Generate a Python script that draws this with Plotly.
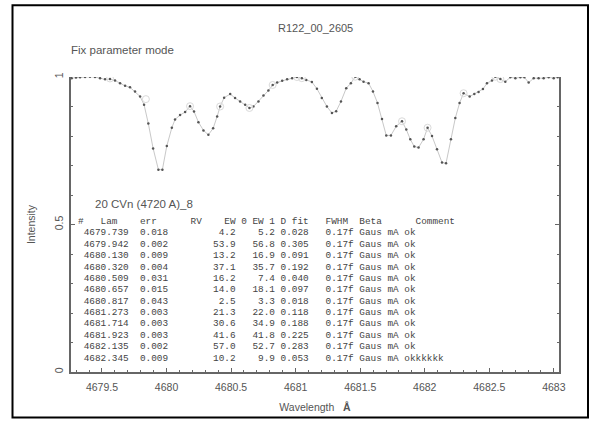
import plotly.graph_objects as go

# ---------------- data ----------------
wavelength = [4679.265, 4679.299, 4679.330, 4679.369, 4679.407, 4679.446, 4679.485, 4679.524,
              4679.562, 4679.601, 4679.640, 4679.679, 4679.717, 4679.756, 4679.795, 4679.826,
              4679.859, 4679.896, 4679.937, 4679.968, 4680.002, 4680.041, 4680.066, 4680.105,
              4680.144, 4680.182, 4680.213, 4680.247, 4680.286, 4680.324, 4680.361, 4680.392,
              4680.415, 4680.446, 4680.493, 4680.531, 4680.570, 4680.609, 4680.642, 4680.673,
              4680.712, 4680.751, 4680.789, 4680.822, 4680.857, 4680.896, 4680.934, 4680.973,
              4681.010, 4681.048, 4681.082, 4681.126, 4681.165, 4681.203, 4681.242, 4681.281,
              4681.314, 4681.351, 4681.392, 4681.428, 4681.462, 4681.495, 4681.526, 4681.565,
              4681.599, 4681.634, 4681.669, 4681.702, 4681.738, 4681.779, 4681.824, 4681.857,
              4681.888, 4681.919, 4681.952, 4681.991, 4682.022, 4682.056, 4682.095, 4682.134,
              4682.165, 4682.203, 4682.237, 4682.270, 4682.301, 4682.348, 4682.384, 4682.417,
              4682.451, 4682.482, 4682.521, 4682.547, 4682.586, 4682.624, 4682.663, 4682.702,
              4682.741, 4682.772, 4682.805, 4682.844, 4682.882, 4682.921, 4682.960, 4682.999,
              4683.030]
intensity = [0.996, 0.998, 0.999, 1.000, 1.001, 1.000, 0.996, 0.992,
             0.993, 0.988, 0.979, 0.970, 0.965, 0.951, 0.934, 0.906,
             0.842, 0.758, 0.686, 0.686, 0.766, 0.828, 0.856, 0.871,
             0.881, 0.901, 0.883, 0.847, 0.819, 0.804, 0.826, 0.866,
             0.900, 0.930, 0.942, 0.929, 0.917, 0.906, 0.895, 0.900,
             0.917, 0.937, 0.954, 0.973, 0.981, 0.987, 0.992, 0.996,
             1.000, 0.996, 0.990, 0.983, 0.960, 0.929, 0.900, 0.878,
             0.884, 0.917, 0.962, 0.979, 1.001, 0.992, 0.984, 0.979,
             0.951, 0.912, 0.858, 0.802, 0.802, 0.833, 0.850, 0.822,
             0.789, 0.764, 0.761, 0.789, 0.828, 0.800, 0.755, 0.710,
             0.708, 0.789, 0.861, 0.912, 0.945, 0.934, 0.942, 0.949,
             0.959, 0.979, 0.988, 1.001, 0.993, 0.984, 0.999, 0.996,
             0.999, 0.999, 0.981, 0.996, 0.996, 0.996, 0.999, 0.996,
             0.999]

circle_wl = [4679.562, 4679.840, 4680.182, 4680.415, 4680.642, 4680.822, 4681.010,
             4681.048, 4681.462, 4681.824, 4682.022, 4682.301, 4682.547, 4682.586]
circle_int = [0.995, 0.925, 0.901, 0.900, 0.895, 0.973, 1.000,
              0.996, 1.001, 0.850, 0.828, 0.945, 1.001, 0.993]

line_lam = ["4679.739", "4679.942", "4680.130", "4680.320", "4680.509", "4680.657",
            "4680.817", "4681.273", "4681.714", "4681.923", "4682.135", "4682.345"]
line_err = ["0.018", "0.002", "0.009", "0.004", "0.031", "0.015",
            "0.043", "0.003", "0.003", "0.003", "0.002", "0.009"]
line_ew0 = [4.2, 53.9, 13.2, 37.1, 16.2, 14.0, 2.5, 21.3, 30.6, 41.6, 57.0, 10.2]
line_ew1 = [5.2, 56.8, 16.9, 35.7, 7.4, 18.1, 3.3, 22.0, 34.9, 41.8, 52.7, 9.9]
line_dfit = ["0.028", "0.305", "0.091", "0.192", "0.040", "0.097",
             "0.018", "0.118", "0.188", "0.225", "0.283", "0.053"]
line_comment = ["ok"] * 11 + ["okkkkkk"]

x_ticks = [4679.5, 4680, 4680.5, 4681, 4681.5, 4682, 4682.5, 4683]
x_tick_text = ["4679.5", "4680", "4680.5", "4681", "4681.5", "4682", "4682.5", "4683"]
y_ticks = [0, 0.5, 1]
y_tick_text = ["0", "0.5", "1"]

# ---------------- layout geometry ----------------
W, H = 591, 424
L, R, T, B = 71, 559, 77, 375   # plot area in pixels


def px(x):
    return (x - L) / (R - L)


def py(y):
    return (B - y) / (B - T)


GRAY = "#555555"
fig = go.Figure()

fig.add_trace(go.Scatter(
    x=wavelength, y=intensity, mode="lines+markers",
    line=dict(color="#c8c8c8", width=1),
    marker=dict(size=2.5, color="#555555"),
    showlegend=False, hoverinfo="skip"))
fig.add_trace(go.Scatter(
    x=circle_wl, y=circle_int, mode="markers",
    marker=dict(size=7, color="rgba(0,0,0,0)", line=dict(color="#dadada", width=1)),
    showlegend=False, hoverinfo="skip"))

fig.update_layout(
    width=W, height=H,
    margin=dict(l=L, r=W - R, t=T, b=H - B, pad=0),
    paper_bgcolor="white", plot_bgcolor="white",
    font=dict(family="Liberation Sans, Arial, sans-serif", size=10, color=GRAY),
    xaxis=dict(range=[4679.26, 4683.04], showgrid=False, zeroline=False,
               showline=True, linecolor="#666666", linewidth=1.5, mirror=False,
               tickmode="array", tickvals=x_ticks, ticktext=x_tick_text,
               ticks="inside", ticklen=4, tickcolor="#666666",
               minor=dict(dtick=0.1, tick0=4679.5, ticks="inside", ticklen=2.5, tickcolor="#666666"),
               tickfont=dict(size=10.5, color=GRAY), ticklabelstandoff=5,
               title=dict(text="Wavelength\u00a0\u00a0\u00a0<b>Å</b>",
                          font=dict(size=10.5, color=GRAY), standoff=11)),
    yaxis=dict(range=[0, 1.0], showgrid=False, zeroline=False,
               showline=True, linecolor="#666666", linewidth=1.5, mirror="ticks",
               tickmode="array", tickvals=y_ticks, ticktext=y_tick_text,
               ticks="inside", ticklen=4, tickcolor="#666666",
               minor=dict(dtick=0.1, tick0=0, ticks="inside", ticklen=2.5, tickcolor="#666666"),
               tickangle=-90, tickfont=dict(size=10.5, color=GRAY), ticklabelstandoff=2,
               title=dict(text="Intensity", font=dict(size=10.5, color=GRAY), standoff=15)),
)

# outer frame
fig.add_shape(type="rect", xref="paper", yref="paper",
              x0=px(12.5), x1=px(588), y0=py(421), y1=py(4.5),
              line=dict(color="black", width=2), fillcolor="rgba(0,0,0,0)")

# titles / labels
fig.add_annotation(text="R122_00_2605", xref="paper", yref="paper",
                   x=px(315), y=py(27), showarrow=False, xanchor="center", yanchor="middle",
                   font=dict(size=11, color=GRAY))
fig.add_annotation(text="Fix parameter mode", xref="paper", yref="paper",
                   x=px(69), y=py(50), showarrow=False, xanchor="left", yanchor="middle",
                   font=dict(size=11.5, color=GRAY))
fig.add_annotation(text="20 CVn (4720 A)_8", xref="paper", yref="paper",
                   x=px(93), y=py(205), showarrow=False, xanchor="left", yanchor="middle",
                   font=dict(size=11.5, color=GRAY))


# table of fitted lines
def place(parts, width=68):
    buf = [" "] * width
    for col, txt in parts:
        for i, ch in enumerate(txt):
            buf[col + i] = ch
    return "".join(buf).rstrip().replace(" ", "\u00a0")


rows = [place([(0, "#"), (4, "Lam"), (11, "err"), (20, "RV"), (26, "EW 0"),
               (31, "EW 1"), (36, "D fit"), (44, "FWHM"), (50, "Beta"), (60, "Comment")])]
for i in range(len(line_lam)):
    rows.append(place([(1, line_lam[i]), (11, line_err[i]),
                       (23, f"{line_ew0[i]:5.1f}"), (30, f"{line_ew1[i]:5.1f}"),
                       (36, line_dfit[i]), (44, "0.17f"), (50, "Gaus"), (55, "mA"),
                       (58, line_comment[i])]))

for k, row in enumerate(rows):
    fig.add_annotation(text=row, xref="paper", yref="paper",
                       x=px(76), y=py(223 + 11.5 * k), showarrow=False,
                       xanchor="left", yanchor="middle",
                       font=dict(family="Liberation Mono, DejaVu Sans Mono, monospace",
                                 size=9.4, color="#444444"))

fig.write_html("out.html", config={"displayModeBar": False},
               post_script="document.body.style.margin='0';")
